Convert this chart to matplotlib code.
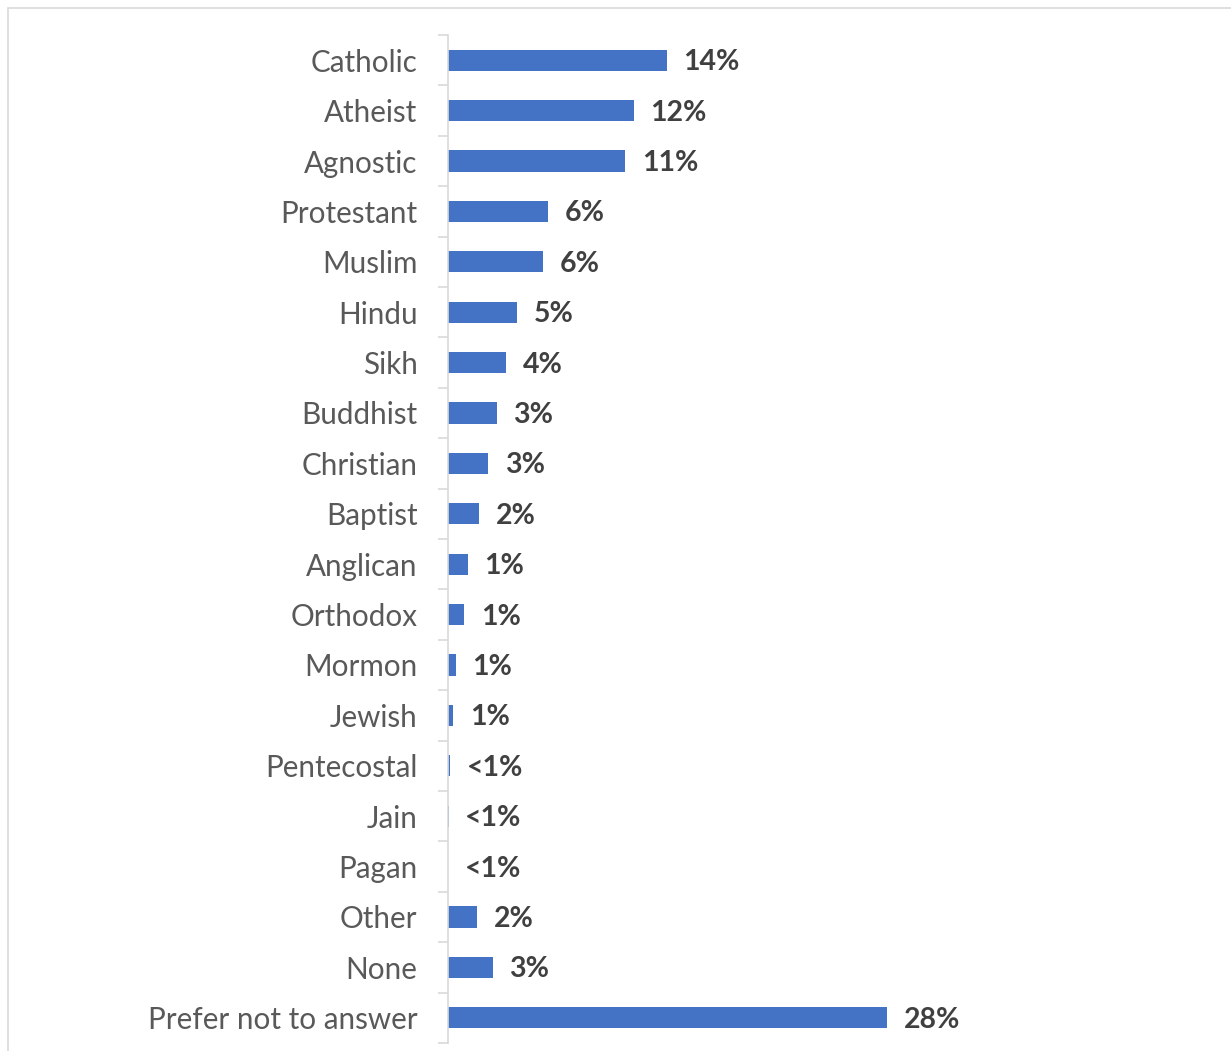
import matplotlib.pyplot as plt
import matplotlib.patches as mpatches
import numpy as np

# dados
categorias = ['Catholic', 'Atheist', 'Agnostic', 'Protestant', 'Muslim', 'Hindu', 'Sikh',
              'Buddhist', 'Christian', 'Baptist', 'Anglican', 'Orthodox', 'Mormon', 'Jewish',
              'Pentecostal', 'Jain', 'Pagan', 'Other', 'None', 'Prefer not to answer']
valores = [13.95, 11.85, 11.3, 6.4, 6.05, 4.4, 3.7, 3.1, 2.55, 2.0, 1.25, 1.05, 0.5, 0.32,
           0.12, 0.04, 0.02, 1.85, 2.85, 28.0]
rotulos = ['14%', '12%', '11%', '6%', '6%', '5%', '4%', '3%', '3%', '2%', '1%', '1%', '1%', '1%',
           '<1%', '<1%', '<1%', '2%', '3%', '28%']

W, H = 1231, 1051
fig = plt.figure(figsize=(W / 100, H / 100), dpi=100)
plt.rcParams['font.family'] = ['Lato', 'DejaVu Sans']

# moldura cinza clara
fig.patches.append(mpatches.Rectangle((8 / W, -0.1), 1.2, (H - 8) / H + 0.1,
                                      transform=fig.transFigure, fill=False,
                                      edgecolor='#d9d9d9', linewidth=1.2))

x0, x1 = 448, 1210
ytop, ybot = 35, 1043
ax = fig.add_axes([x0 / W, (H - ybot) / H, (x1 - x0) / W, (ybot - ytop) / H])

n = len(categorias)
y = np.arange(n)
ax.barh(y, valores, height=0.42, color='#4472c4')
ax.set_ylim(n - 0.5, -0.5)
ax.set_xlim(0, (x1 - x0) / 15.68)

for yi, v, r in zip(y, valores, rotulos):
    ax.annotate(r, (v, yi), xytext=(12, -1.5), textcoords='offset points', va='center',
                ha='left', fontsize=20.5, fontweight='bold', color='#404040')

ax.set_yticks(y)
ax.set_yticklabels(categorias, fontsize=21.3, color='#595959')
ax.set_yticks(np.arange(-0.5, n, 1), minor=True)
ax.tick_params(axis='y', which='major', length=0, pad=22)
ax.tick_params(axis='y', which='minor', length=7.5, color='#d9d9d9', width=1.2)
ax.set_xticks([])
for s in ['top', 'right', 'bottom']:
    ax.spines[s].set_visible(False)
ax.spines['left'].set_color('#d9d9d9')
ax.spines['left'].set_linewidth(1.2)

fig.savefig('out.png', dpi=100)
